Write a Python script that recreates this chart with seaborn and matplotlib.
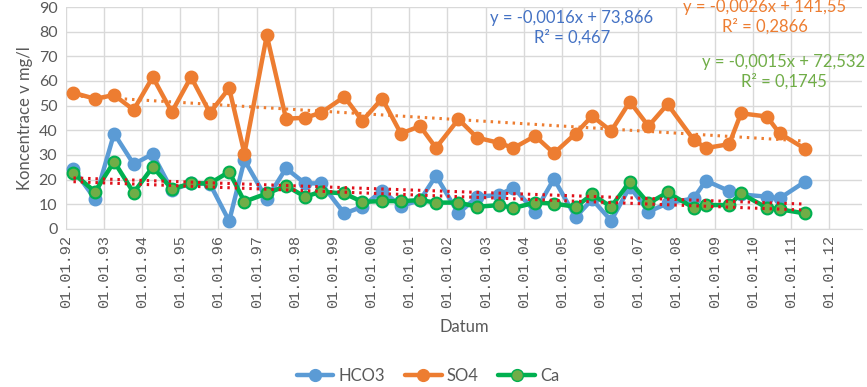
import matplotlib
matplotlib.use("Agg")
import matplotlib.pyplot as plt
import matplotlib.dates as mdates
from matplotlib.lines import Line2D
import seaborn as sns
import pandas as pd
import numpy as np

# data
dates = ["1992-03-15", "1992-10-08", "1993-04-08", "1993-10-12", "1994-04-13", "1994-10-12",
         "1995-04-14", "1995-10-12", "1996-04-13", "1996-09-06", "1997-04-08", "1997-10-09",
         "1998-04-08", "1998-09-09", "1999-04-20", "1999-10-09", "2000-04-16", "2000-10-12",
         "2001-04-14", "2001-09-13", "2002-04-16", "2002-10-12", "2003-05-12", "2003-09-24",
         "2004-04-18", "2004-10-16", "2005-05-11", "2005-10-16", "2006-04-16", "2006-10-12",
         "2007-04-08", "2007-10-08", "2008-06-13", "2008-10-08", "2009-05-19", "2009-09-10",
         "2010-05-15", "2010-09-13", "2011-05-16"]
hco3 = [24.3, 12.1, 38.7, 26.3, 30.4, 15.8, 18.5, 18.3, 3.2, 27.9, 12.1, 24.6, 18.5, 18.5,
        6.3, 9.0, 15.5, 9.3, 11.7, 21.6, 6.3, 13.1, 13.8, 16.8, 7.0, 20.3, 4.8, 12.0, 3.4,
        17.1, 7.0, 10.4, 12.4, 19.6, 15.4, 14.0, 13.1, 12.4, 19.2]
so4 = [55.2, 52.8, 54.3, 48.3, 61.6, 47.4, 61.6, 47.1, 57.1, 30.6, 78.5, 44.7, 45.1, 47.1,
       53.6, 43.9, 52.9, 38.7, 41.7, 32.9, 44.5, 37.0, 34.9, 32.8, 37.7, 30.7, 38.7, 45.8,
       39.7, 51.6, 41.7, 50.6, 36.2, 32.8, 34.4, 46.9, 45.6, 38.8, 32.5]
ca = [22.5, 15.1, 27.3, 14.7, 25.2, 16.2, 18.5, 18.5, 23.2, 11.1, 14.4, 17.5, 13.1, 15.1,
      14.4, 11.0, 11.3, 11.3, 11.7, 10.7, 10.7, 9.0, 9.7, 8.5, 10.7, 10.3, 9.0, 14.0, 9.0,
      19.2, 10.4, 14.8, 8.6, 9.7, 9.7, 14.4, 8.6, 8.0, 6.3]
series_names = ["HCO3", "SO4", "Ca"]
equations = ["y = -0,0016x + 73,866\nR² = 0,467",
             "y = -0,0026x + 141,55\nR² = 0,2866",
             "y = -0,0015x + 72,532\nR² = 0,1745"]

df = pd.DataFrame({"Datum": pd.to_datetime(dates), "HCO3": hco3, "SO4": so4, "Ca": ca})
df["num"] = mdates.date2num(df["Datum"])

sns.set_style("white")
plt.rcParams["font.family"] = ["Lato", "DejaVu Sans"]

fig = plt.figure(figsize=(8.67, 3.87), dpi=100)
ax = fig.add_axes([0.0758, 0.4083, 0.9184, 0.5736])

line_col = {"HCO3": "#5B9BD5", "SO4": "#ED7D31", "Ca": "#00B050"}
face_col = {"HCO3": "#5B9BD5", "SO4": "#ED7D31", "Ca": "#70AD47"}
trend_col = {"HCO3": "#E0101A", "SO4": "#ED7D31", "Ca": "#E0101A"}

for name in series_names:
    sns.lineplot(data=df, x="num", y=name, ax=ax, color=line_col[name], linewidth=3.2,
                 marker="o", markersize=8.5, markerfacecolor=face_col[name],
                 markeredgecolor=line_col[name], markeredgewidth=1.5, zorder=3)

# linear trends (Excel trendlines)
for name in series_names:
    sns.regplot(data=df, x="num", y=name, ax=ax, scatter=False, ci=None, truncate=True,
                line_kws={"color": trend_col[name], "linestyle": (0, (0.8, 1.6)),
                          "linewidth": 2.2, "zorder": 4})

ax.set_xlim(mdates.date2num(pd.Timestamp("1992-01-01")), mdates.date2num(pd.Timestamp("2012-11-10")))
ax.set_ylim(0, 90)
ax.set_yticks(range(0, 91, 10))
ax.xaxis.set_major_locator(mdates.YearLocator())
ax.xaxis.set_major_formatter(mdates.DateFormatter("%d.%m.%y"))
ax.grid(True, color="#D9D9D9", linewidth=1)
ax.set_axisbelow(True)
for s in ["top", "right", "left"]:
    ax.spines[s].set_visible(False)
ax.spines["bottom"].set_color("#D9D9D9")
ax.tick_params(axis="x", length=0, pad=4, labelrotation=90, labelsize=11, labelcolor="#595959")
ax.tick_params(axis="y", length=0, pad=6, labelsize=11.5, labelcolor="#595959")
for lab in ax.get_xticklabels():
    lab.set_family("Liberation Mono")
ax.set_xlabel("Datum", fontsize=12, color="#595959", labelpad=8)
ax.set_ylabel("Koncentrace v mg/l", fontsize=12, color="#595959", labelpad=4)

# trendline equations
eq_pos = [(572, 28, "#4472C4"), (765, 17, "#ED7D31"), (784, 72, "#70AD47")]
for (px, py, c), txt in zip(eq_pos, equations):
    fig.text(px / 867, 1 - py / 387, txt, ha="center", va="center", color=c,
             fontsize=12, linespacing=1.25)

handles = [Line2D([], [], color=line_col[n], lw=3.2, marker="o", markersize=8.5,
                  markerfacecolor=face_col[n], markeredgecolor=line_col[n]) for n in series_names]
fig.legend(handles, series_names, loc="center", bbox_to_anchor=(428 / 867, 1 - 376 / 387),
           ncol=3, frameon=False, fontsize=12, handlelength=2.2, handletextpad=0.3,
           columnspacing=1.2, labelcolor="#595959")

fig.savefig("out.png", dpi=100)
